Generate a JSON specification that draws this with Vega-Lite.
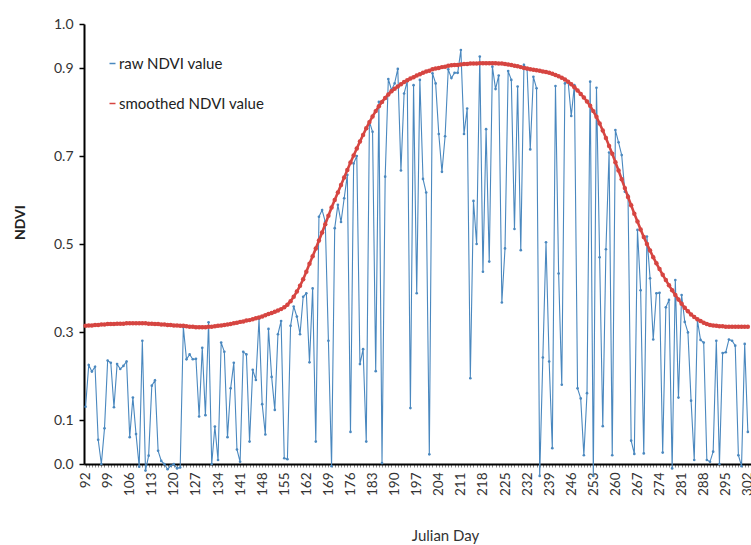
{
  "$schema": "https://vega.github.io/schema/vega-lite/v6.json",
  "width": 667,
  "height": 440,
  "autosize": {"type": "none"},
  "padding": {"left": 84, "top": 24, "right": 0, "bottom": 81},
  "background": "white",
  "config": {
    "font": "Lato",
    "view": {"stroke": null}
  },
  "data": {
    "values": [
      {"d":92,"raw":0.13,"sm":0.314},{"d":93,"raw":0.225,"sm":0.315},{"d":94,"raw":0.21,"sm":0.315},{"d":95,"raw":0.221,"sm":0.316},
      {"d":96,"raw":0.055,"sm":0.316},{"d":97,"raw":0.0,"sm":0.317},{"d":98,"raw":0.081,"sm":0.317},{"d":99,"raw":0.235,"sm":0.318},
      {"d":100,"raw":0.23,"sm":0.318},{"d":101,"raw":0.129,"sm":0.318},{"d":102,"raw":0.227,"sm":0.319},{"d":103,"raw":0.216,"sm":0.319},
      {"d":104,"raw":0.223,"sm":0.319},{"d":105,"raw":0.233,"sm":0.32},{"d":106,"raw":0.061,"sm":0.32},{"d":107,"raw":0.151,"sm":0.32},
      {"d":108,"raw":0.068,"sm":0.32},{"d":109,"raw":-0.006,"sm":0.32},{"d":110,"raw":0.28,"sm":0.32},{"d":111,"raw":-0.015,"sm":0.32},
      {"d":112,"raw":0.019,"sm":0.319},{"d":113,"raw":0.178,"sm":0.319},{"d":114,"raw":0.19,"sm":0.318},{"d":115,"raw":0.03,"sm":0.318},
      {"d":116,"raw":0.007,"sm":0.317},{"d":117,"raw":0.0,"sm":0.317},{"d":118,"raw":-0.012,"sm":0.316},{"d":119,"raw":-0.004,"sm":0.316},
      {"d":120,"raw":0.0,"sm":0.315},{"d":121,"raw":-0.01,"sm":0.315},{"d":122,"raw":-0.008,"sm":0.314},{"d":123,"raw":0.311,"sm":0.314},
      {"d":124,"raw":0.238,"sm":0.313},{"d":125,"raw":0.249,"sm":0.312},{"d":126,"raw":0.238,"sm":0.312},{"d":127,"raw":0.239,"sm":0.311},
      {"d":128,"raw":0.108,"sm":0.311},{"d":129,"raw":0.264,"sm":0.311},{"d":130,"raw":0.111,"sm":0.311},{"d":131,"raw":0.322,"sm":0.312},
      {"d":132,"raw":0.0,"sm":0.312},{"d":133,"raw":0.085,"sm":0.313},{"d":134,"raw":0.009,"sm":0.314},{"d":135,"raw":0.276,"sm":0.315},
      {"d":136,"raw":0.255,"sm":0.316},{"d":137,"raw":0.061,"sm":0.317},{"d":138,"raw":0.172,"sm":0.318},{"d":139,"raw":0.23,"sm":0.32},
      {"d":140,"raw":0.033,"sm":0.321},{"d":141,"raw":0.005,"sm":0.323},{"d":142,"raw":0.255,"sm":0.324},{"d":143,"raw":0.249,"sm":0.326},
      {"d":144,"raw":0.051,"sm":0.327},{"d":145,"raw":0.214,"sm":0.329},{"d":146,"raw":0.191,"sm":0.331},{"d":147,"raw":0.33,"sm":0.333},
      {"d":148,"raw":0.136,"sm":0.335},{"d":149,"raw":0.067,"sm":0.338},{"d":150,"raw":0.307,"sm":0.341},{"d":151,"raw":0.198,"sm":0.343},
      {"d":152,"raw":0.123,"sm":0.346},{"d":153,"raw":0.295,"sm":0.349},{"d":154,"raw":0.325,"sm":0.352},{"d":155,"raw":0.013,"sm":0.356},
      {"d":156,"raw":0.011,"sm":0.362},{"d":157,"raw":0.314,"sm":0.37},{"d":158,"raw":0.358,"sm":0.38},{"d":159,"raw":0.335,"sm":0.392},
      {"d":160,"raw":0.295,"sm":0.405},{"d":161,"raw":0.38,"sm":0.42},{"d":162,"raw":0.388,"sm":0.437},{"d":163,"raw":0.231,"sm":0.455},
      {"d":164,"raw":0.399,"sm":0.472},{"d":165,"raw":0.051,"sm":0.49},{"d":166,"raw":0.562,"sm":0.508},{"d":167,"raw":0.577,"sm":0.526},
      {"d":168,"raw":0.551,"sm":0.545},{"d":169,"raw":0.28,"sm":0.564},{"d":170,"raw":-0.005,"sm":0.583},{"d":171,"raw":0.536,"sm":0.6},
      {"d":172,"raw":0.589,"sm":0.617},{"d":173,"raw":0.55,"sm":0.634},{"d":174,"raw":0.604,"sm":0.651},{"d":175,"raw":0.657,"sm":0.668},
      {"d":176,"raw":0.073,"sm":0.685},{"d":177,"raw":0.683,"sm":0.701},{"d":178,"raw":0.7,"sm":0.717},{"d":179,"raw":0.227,"sm":0.733},
      {"d":180,"raw":0.261,"sm":0.748},{"d":181,"raw":0.051,"sm":0.763},{"d":182,"raw":0.778,"sm":0.777},{"d":183,"raw":0.755,"sm":0.79},
      {"d":184,"raw":0.211,"sm":0.802},{"d":185,"raw":0.823,"sm":0.813},{"d":186,"raw":0.002,"sm":0.823},{"d":187,"raw":0.653,"sm":0.832},
      {"d":188,"raw":0.875,"sm":0.84},{"d":189,"raw":0.85,"sm":0.847},{"d":190,"raw":0.865,"sm":0.853},{"d":191,"raw":0.898,"sm":0.858},
      {"d":192,"raw":0.667,"sm":0.863},{"d":193,"raw":0.842,"sm":0.868},{"d":194,"raw":0.87,"sm":0.872},{"d":195,"raw":0.127,"sm":0.876},
      {"d":196,"raw":0.861,"sm":0.879},{"d":197,"raw":0.388,"sm":0.883},{"d":198,"raw":0.873,"sm":0.886},{"d":199,"raw":0.648,"sm":0.889},
      {"d":200,"raw":0.617,"sm":0.892},{"d":201,"raw":0.022,"sm":0.894},{"d":202,"raw":0.888,"sm":0.897},{"d":203,"raw":0.865,"sm":0.899},
      {"d":204,"raw":0.75,"sm":0.9},{"d":205,"raw":0.664,"sm":0.902},{"d":206,"raw":0.745,"sm":0.903},{"d":207,"raw":0.897,"sm":0.905},
      {"d":208,"raw":0.877,"sm":0.906},{"d":209,"raw":0.889,"sm":0.907},{"d":210,"raw":0.889,"sm":0.907},{"d":211,"raw":0.941,"sm":0.908},
      {"d":212,"raw":0.75,"sm":0.909},{"d":213,"raw":0.808,"sm":0.909},{"d":214,"raw":0.195,"sm":0.91},{"d":215,"raw":0.598,"sm":0.91},
      {"d":216,"raw":0.5,"sm":0.91},{"d":217,"raw":0.926,"sm":0.911},{"d":218,"raw":0.437,"sm":0.911},{"d":219,"raw":0.761,"sm":0.911},
      {"d":220,"raw":0.46,"sm":0.911},{"d":221,"raw":0.903,"sm":0.911},{"d":222,"raw":0.852,"sm":0.911},{"d":223,"raw":0.883,"sm":0.91},
      {"d":224,"raw":0.367,"sm":0.91},{"d":225,"raw":0.49,"sm":0.909},{"d":226,"raw":0.893,"sm":0.908},{"d":227,"raw":0.873,"sm":0.907},
      {"d":228,"raw":0.534,"sm":0.905},{"d":229,"raw":0.858,"sm":0.904},{"d":230,"raw":0.486,"sm":0.902},{"d":231,"raw":0.907,"sm":0.9},
      {"d":232,"raw":0.897,"sm":0.899},{"d":233,"raw":0.715,"sm":0.897},{"d":234,"raw":0.88,"sm":0.896},{"d":235,"raw":0.854,"sm":0.895},
      {"d":236,"raw":-0.027,"sm":0.894},{"d":237,"raw":0.242,"sm":0.892},{"d":238,"raw":0.504,"sm":0.891},{"d":239,"raw":0.233,"sm":0.889},
      {"d":240,"raw":0.036,"sm":0.887},{"d":241,"raw":0.859,"sm":0.884},{"d":242,"raw":0.433,"sm":0.881},{"d":243,"raw":0.18,"sm":0.878},
      {"d":244,"raw":0.865,"sm":0.874},{"d":245,"raw":0.87,"sm":0.869},{"d":246,"raw":0.791,"sm":0.863},{"d":247,"raw":0.861,"sm":0.856},
      {"d":248,"raw":0.172,"sm":0.849},{"d":249,"raw":0.149,"sm":0.841},{"d":250,"raw":0.02,"sm":0.833},{"d":251,"raw":0.161,"sm":0.824},
      {"d":252,"raw":0.869,"sm":0.814},{"d":253,"raw":-0.027,"sm":0.802},{"d":254,"raw":0.855,"sm":0.789},{"d":255,"raw":0.47,"sm":0.774},
      {"d":256,"raw":0.086,"sm":0.758},{"d":257,"raw":0.488,"sm":0.741},{"d":258,"raw":0.708,"sm":0.723},{"d":259,"raw":0.02,"sm":0.705},
      {"d":260,"raw":0.759,"sm":0.686},{"d":261,"raw":0.731,"sm":0.667},{"d":262,"raw":0.702,"sm":0.647},{"d":263,"raw":0.619,"sm":0.627},
      {"d":264,"raw":0.611,"sm":0.607},{"d":265,"raw":0.053,"sm":0.588},{"d":266,"raw":0.023,"sm":0.569},{"d":267,"raw":0.532,"sm":0.551},
      {"d":268,"raw":0.395,"sm":0.533},{"d":269,"raw":0.024,"sm":0.516},{"d":270,"raw":0.517,"sm":0.5},{"d":271,"raw":0.422,"sm":0.485},
      {"d":272,"raw":0.283,"sm":0.47},{"d":273,"raw":0.388,"sm":0.456},{"d":274,"raw":0.389,"sm":0.443},{"d":275,"raw":0.026,"sm":0.43},
      {"d":276,"raw":0.356,"sm":0.418},{"d":277,"raw":0.373,"sm":0.406},{"d":278,"raw":-0.01,"sm":0.395},{"d":279,"raw":0.418,"sm":0.384},
      {"d":280,"raw":0.151,"sm":0.374},{"d":281,"raw":0.384,"sm":0.364},{"d":282,"raw":0.323,"sm":0.355},{"d":283,"raw":0.299,"sm":0.347},
      {"d":284,"raw":0.144,"sm":0.34},{"d":285,"raw":0.009,"sm":0.334},{"d":286,"raw":0.327,"sm":0.329},{"d":287,"raw":0.282,"sm":0.325},
      {"d":288,"raw":0.276,"sm":0.321},{"d":289,"raw":0.009,"sm":0.318},{"d":290,"raw":0.005,"sm":0.316},{"d":291,"raw":0.028,"sm":0.315},
      {"d":292,"raw":0.28,"sm":0.314},{"d":293,"raw":0.0,"sm":0.313},{"d":294,"raw":0.252,"sm":0.313},{"d":295,"raw":0.254,"sm":0.312},
      {"d":296,"raw":0.283,"sm":0.312},{"d":297,"raw":0.28,"sm":0.312},{"d":298,"raw":0.269,"sm":0.312},{"d":299,"raw":0.02,"sm":0.312},
      {"d":300,"raw":-0.005,"sm":0.312},{"d":301,"raw":0.273,"sm":0.312},{"d":302,"raw":0.073,"sm":0.312}
    ]
  },
  "transform": [
    {"fold": ["raw", "sm"], "as": ["series", "ndvi"]}
  ],
  "encoding": {
    "x": {
      "field": "d",
      "type": "quantitative",
      "scale": {"domain": [91.5, 303], "nice": false, "zero": false},
      "axis": {
        "title": "Julian Day",
        "titleFontSize": 15,
        "titleFontWeight": "normal",
        "titleColor": "#333333",
        "titleX": 361,
        "titleY": 76,
        "titleAlign": "center",
        "titleBaseline": "alphabetic",
        "values": [92,93,94,95,96,97,98,99,100,101,102,103,104,105,106,107,108,109,110,111,112,113,114,115,116,117,118,119,120,121,122,123,124,125,126,127,128,129,130,131,132,133,134,135,136,137,138,139,140,141,142,143,144,145,146,147,148,149,150,151,152,153,154,155,156,157,158,159,160,161,162,163,164,165,166,167,168,169,170,171,172,173,174,175,176,177,178,179,180,181,182,183,184,185,186,187,188,189,190,191,192,193,194,195,196,197,198,199,200,201,202,203,204,205,206,207,208,209,210,211,212,213,214,215,216,217,218,219,220,221,222,223,224,225,226,227,228,229,230,231,232,233,234,235,236,237,238,239,240,241,242,243,244,245,246,247,248,249,250,251,252,253,254,255,256,257,258,259,260,261,262,263,264,265,266,267,268,269,270,271,272,273,274,275,276,277,278,279,280,281,282,283,284,285,286,287,288,289,290,291,292,293,294,295,296,297,298,299,300,301,302],
        "labelExpr": "(datum.value - 92) % 7 == 0 ? datum.value : ''",
        "labelOverlap": false,
        "labelFlush": false,
        "labelAngle": -90,
        "labelFontSize": 13.5,
        "labelColor": "#333333",
        "labelPadding": 5,
        "tickSize": 3,
        "tickColor": "#8a8a8a",
        "tickWidth": 1,
        "domainColor": "#000000",
        "domainWidth": 2,
        "grid": false
      }
    },
    "y": {
      "field": "ndvi",
      "type": "quantitative",
      "scale": {"domain": [0, 1], "nice": false, "zero": false},
      "axis": {
        "title": "NDVI",
        "titleFontSize": 14,
        "titleFontWeight": "bold",
        "titleColor": "#222222",
        "titleAngle": -90,
        "titleX": -64,
        "titleY": 198,
        "titleAlign": "center",
        "titleBaseline": "middle",
        "values": [0, 0.1, 0.3, 0.5, 0.7, 0.9, 1.0],
        "format": ".1f",
        "labelFontSize": 14,
        "labelColor": "#333333",
        "labelPadding": 6,
        "tickSize": 5,
        "tickColor": "#000000",
        "tickWidth": 1.5,
        "domainColor": "#000000",
        "domainWidth": 2,
        "grid": false
      }
    },
    "color": {
      "field": "series",
      "type": "nominal",
      "scale": {"domain": ["raw", "sm"], "range": ["#4a88bf", "#d64541"]},
      "legend": {
        "title": null,
        "orient": "none",
        "legendX": 21,
        "legendY": 32,
        "labelExpr": "datum.value == 'raw' ? 'raw NDVI value' : 'smoothed NDVI value'",
        "labelFontSize": 15,
        "labelColor": "#222222",
        "labelOffset": -1,
        "symbolType": "stroke",
        "symbolSize": 36,
        "symbolStrokeWidth": 1.5,
        "rowPadding": 24
      }
    }
  },
  "layer": [
    {
      "transform": [{"filter": "datum.series == 'raw'"}],
      "mark": {
        "type": "line",
        "strokeWidth": 1.1,
        "clip": false,
        "point": {"filled": true, "size": 7}
      }
    },
    {
      "transform": [{"filter": "datum.series == 'sm'"}],
      "mark": {
        "type": "line",
        "strokeWidth": 2.6,
        "clip": false,
        "point": {"filled": true, "size": 20}
      }
    }
  ]
}
